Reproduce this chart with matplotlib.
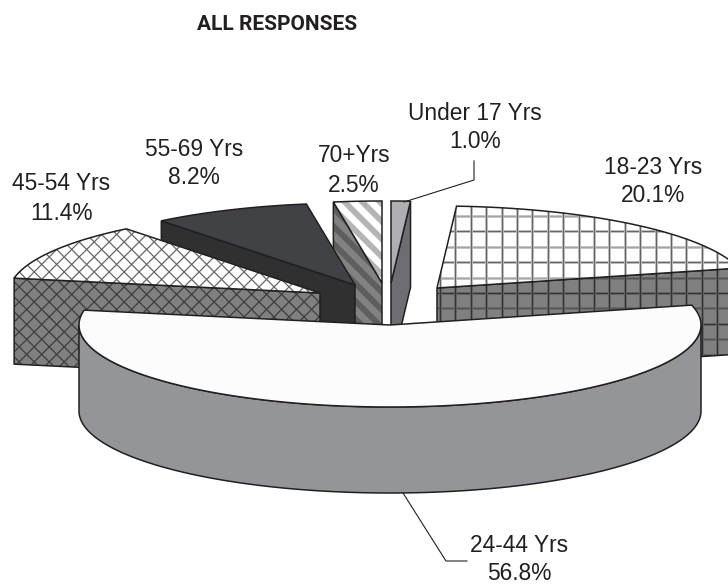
"""3D style exploded pie of survey responses by age."""
import numpy as np
import matplotlib
matplotlib.use("Agg")
import matplotlib.pyplot as plt
from matplotlib.collections import LineCollection
from matplotlib.patches import Polygon

categories = ["Under 17 Yrs", "18-23 Yrs", "24-44 Yrs", "45-54 Yrs", "55-69 Yrs", "70+Yrs"]
shares = [1.0, 20.1, 56.8, 11.4, 8.2, 2.5]

# pie geometry, in pixels
CENTER = (390, 325)
RX, RY, DEPTH = 311, 82, 86
explode = [(1, -42), (47, -37), (0, 0), (-70, -32), (-35, -40), (-8, -42)]
INK = "#231f20"

# where each label goes (text centre, top line)
label_pos = [(475, 113), (653, 167), (519, 545), (61, 184), (194, 149), (354, 156)]
LINE_GAP = 29

fig = plt.figure(figsize=(7.28, 5.84), dpi=100)
ax = fig.add_axes([0, 0, 1, 1])
ax.set_xlim(0, 728)
ax.set_ylim(584, 0)
ax.axis("off")


def rim(i, deg):
    """Point on the top rim of slice i, angle clockwise from 12 o'clock."""
    t = np.radians(deg)
    return (CENTER[0] + explode[i][0] + RX * np.sin(t),
            CENTER[1] + explode[i][1] - RY * np.cos(t))


def hatch(patch, angle, spacing, color, lw, alt=None):
    """Line hatch across the whole figure, clipped to patch."""
    t = np.radians(angle)
    d = np.array([np.cos(t), np.sin(t)])
    n = np.array([-d[1], d[0]])
    offs = np.arange(-1000, 1000, spacing)
    segs = [[n * o - d * 1200 + (364, 292), n * o + d * 1200 + (364, 292)] for o in offs]
    cols = [color if alt is None or k % 2 else alt for k in range(len(offs))]
    lc = LineCollection(segs, colors=cols, linewidths=lw, zorder=patch.get_zorder())
    ax.add_collection(lc)
    lc.set_clip_path(patch)


def poly(pts, fc, z):
    p = Polygon(pts, closed=True, facecolor=fc, edgecolor="none", zorder=z)
    ax.add_patch(p)
    return p


def outline(pts, z, lw=1.1):
    ax.add_patch(Polygon(pts, closed=True, fill=False, edgecolor=INK, linewidth=lw,
                         joinstyle="miter", zorder=z))


def style_grid(p, on_wall):
    halo = "#6a6a6a" if on_wall else "#c4c4c4"
    core = "#333333" if on_wall else "#666666"
    soft = "#555555" if on_wall else "#a4a4a4"
    for ang in (0, 90):
        hatch(p, ang, 15.4, halo, 2.0)
        hatch(p, ang, 15.4, core, 0.9, alt=soft if ang == 0 else None)


def style_cross(p, on_wall):
    col = "#3c3c3c" if on_wall else "#666666"
    for ang in (45, -45):
        hatch(p, ang, 10.6, col, 0.9)


def style_stripes(p, on_wall):
    hatch(p, 45, 12.5, "#5e5e5e" if on_wall else "#b4b4b4", 4.2)


# top colour, wall colour, pattern for each slice
top_colors = ["#aeafb3", "white", "#fcfcfc", "white", "#414245", "white"]
wall_colors = ["#6d6e71", "#808080", "#939598", "#808080", "#303030", "#828282"]
patterns = [None, style_grid, None, style_cross, None, style_stripes]
# slices further back are painted first
draw_order = [5, 4, 3, 0, 1, 2]

edges = np.concatenate([[0], np.cumsum(shares)]) * 3.6

for level, i in enumerate(draw_order):
    start, end = edges[i], edges[i + 1]
    apex = (CENTER[0] + explode[i][0], CENTER[1] + explode[i][1])
    arc = [rim(i, a) for a in np.linspace(start, end, 120)]
    top = [apex] + arc
    z = 2 + level * 2

    if i == 2:
        # the big slice shows its curved outer wall
        front = [rim(i, a) for a in np.linspace(90, 270, 240)]
        wall = front + [(x, y + DEPTH) for x, y in front[::-1]]
    else:
        # cut face on the side that looks at the viewer
        outer = arc[-1] if start < 180 else arc[0]
        wall = [apex, outer, (outer[0], outer[1] + DEPTH), (apex[0], apex[1] + DEPTH)]

    p = poly(wall, wall_colors[i], z)
    if patterns[i]:
        patterns[i](p, True)
    outline(wall, z)

    p = poly(top, top_colors[i], z + 1)
    if patterns[i]:
        patterns[i](p, False)
    outline(top, z + 1)

for name, share, (x, y) in zip(categories, shares, label_pos):
    ax.text(x, y, name, ha="center", va="center", fontsize=16.4, color=INK,
            family=["Liberation Sans", "DejaVu Sans"], zorder=30)
    ax.text(x, y + LINE_GAP, f"{share:.1f}%", ha="center", va="center", fontsize=16.4,
            color=INK, family=["Liberation Sans", "DejaVu Sans"], zorder=30)

# leader lines
ax.plot([474, 474, 404], [161, 180, 202], color=INK, lw=0.8, zorder=30)
ax.plot([403, 446, 467], [493, 561, 561], color=INK, lw=0.8, zorder=30)

ax.text(277, 24, "ALL RESPONSES", ha="center", va="center", fontsize=15, fontweight="bold",
        color=INK, family=["Roboto", "Liberation Sans", "DejaVu Sans"], zorder=30)

fig.savefig("out.png", dpi=100, facecolor="white")
